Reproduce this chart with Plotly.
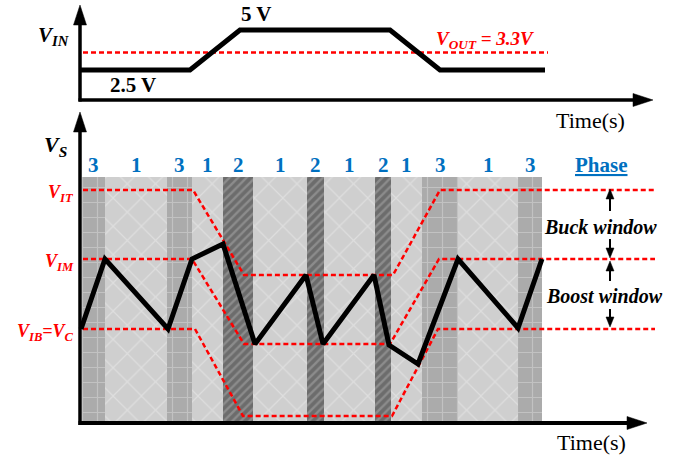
import plotly.graph_objects as go

W, H = 678, 455

# ---------------- data ----------------
# Top panel: input voltage vs time (time in arbitrary units)
vin_time = [0.0, 11.0, 16.0, 31.0, 36.0, 46.5]
vin_volts = [2.5, 2.5, 5.0, 5.0, 2.5, 2.5]
vout_time = [0.3, 46.8]
vout_level = [3.6, 3.6]          # drawn position of the V_OUT = 3.3V reference

# Bottom panel: switching-node voltage V_S (arbitrary level units)
vs_time = [0.1, 2.5, 8.8, 11.2, 14.3, 17.5, 22.6, 24.3, 29.4, 30.9, 33.8, 37.8, 43.8, 46.2]
vs_level = [9.4, 16.4, 9.4, 16.4, 17.9, 7.9, 14.8, 7.9, 14.8, 7.8, 5.9, 16.4, 9.5, 16.4]

# Threshold levels V_IT, V_IM, V_IB
vit_time = [0.3, 11.3, 16.4, 31.3, 36.0, 57.5]
vit_level = [23.3, 23.3, 14.8, 14.8, 23.3, 23.3]
vim_time = [0.3, 11.2, 16.4, 31.0, 35.9, 57.5]
vim_level = [16.4, 16.4, 7.9, 7.9, 16.4, 16.4]
vib_time = [0.3, 11.5, 16.3, 31.2, 35.8, 57.5]
vib_level = [9.4, 9.4, 0.7, 0.7, 9.4, 9.4]

# Phase bands
phase_edges = [0.2, 2.5, 8.7, 11.2, 14.3, 17.3, 22.7, 24.4, 29.5, 31.1, 34.2, 37.8, 43.8, 46.2]
phase_seq = [3, 1, 3, 1, 2, 1, 2, 1, 2, 1, 3, 1, 3]
band_top = 24.6

# ---------------- figure ----------------
RED = "#FF0000"
BLUE = "#0070C0"
FONT = "Liberation Serif"

fig = go.Figure()

styles = {
    1: dict(bg="#cfcfcf", fg="#dedede", shape="x", size=20, solidity=0.12),
    3: dict(bg="#ababab", fg="#c2c2c2", shape="+", size=15, solidity=0.15),
    2: dict(bg="#6c6c6c", fg="#8c8c8c", shape="/", size=6, solidity=0.4),
}
for ph in (1, 3, 2):
    xs, ws = [], []
    for i, p in enumerate(phase_seq):
        if p == ph:
            a, b = phase_edges[i], phase_edges[i + 1]
            xs.append((a + b) / 2)
            ws.append(b - a)
    st = styles[ph]
    fig.add_trace(go.Bar(
        x=xs, y=[band_top] * len(xs), width=ws, base=0,
        marker=dict(color=st["bg"], line=dict(width=0),
                    pattern=dict(shape=st["shape"], fgcolor=st["fg"], bgcolor=st["bg"],
                                 size=st["size"], solidity=st["solidity"], fillmode="replace")),
        xaxis="x", yaxis="y", showlegend=False, hoverinfo="skip"))

dash = "5px,3px"
for tt, lv in ((vit_time, vit_level), (vim_time, vim_level), (vib_time, vib_level)):
    fig.add_trace(go.Scatter(x=tt, y=lv, mode="lines",
                             line=dict(color=RED, width=2.5, dash=dash),
                             xaxis="x", yaxis="y", showlegend=False, hoverinfo="skip"))

fig.add_trace(go.Scatter(x=vs_time, y=vs_level, mode="lines",
                         line=dict(color="black", width=5),
                         xaxis="x", yaxis="y", showlegend=False, hoverinfo="skip"))

fig.add_trace(go.Scatter(x=vout_time, y=vout_level, mode="lines",
                         line=dict(color=RED, width=2.5, dash=dash),
                         xaxis="x", yaxis="y2", showlegend=False, hoverinfo="skip"))
fig.add_trace(go.Scatter(x=vin_time, y=vin_volts, mode="lines",
                         line=dict(color="black", width=5),
                         xaxis="x", yaxis="y2", showlegend=False, hoverinfo="skip"))

# ---------------- decorations (pixel helpers) ----------------
def P(px, py):
    return px / W, 1 - py / H

def line(x0, y0, x1, y1, w=3.5, color="black"):
    a, b = P(x0, y0)
    c, d = P(x1, y1)
    fig.add_shape(type="line", xref="paper", yref="paper", x0=a, y0=b, x1=c, y1=d,
                  line=dict(color=color, width=w))

def head(tx, ty, direction, length, width):
    if direction == "up":
        pts = [(tx, ty), (tx - width / 2, ty + length), (tx + width / 2, ty + length)]
    elif direction == "down":
        pts = [(tx, ty), (tx - width / 2, ty - length), (tx + width / 2, ty - length)]
    else:  # right
        pts = [(tx, ty), (tx - length, ty - width / 2), (tx - length, ty + width / 2)]
    path = "M " + " L ".join("%.5f,%.5f" % P(x, y) for x, y in pts) + " Z"
    fig.add_shape(type="path", xref="paper", yref="paper", path=path,
                  fillcolor="black", line=dict(color="black", width=0.5))

# top panel axes
line(80, 101.5, 80, 22)
line(78.5, 100, 636, 100)
head(80, 5, "up", 20, 13)
head(653, 100, "right", 20, 13)
# bottom panel axes
line(80, 425, 80, 130)
line(78.5, 423, 630, 423, w=4)
head(80, 112, "up", 20, 13)
head(647, 423, "right", 20, 13)

# window arrows
AX = 610
line(AX, 197, AX, 211, w=2)
head(AX, 189, "up", 10, 8)
line(AX, 239, AX, 250, w=2)
head(AX, 258, "down", 10, 8)
line(AX, 269, AX, 281, w=2)
head(AX, 261, "up", 10, 8)
line(AX, 309, AX, 319, w=2)
head(AX, 327, "down", 10, 8)

def text(px, py, s, size, color="black", xanchor="center", yanchor="middle"):
    x, y = P(px, py)
    fig.add_annotation(x=x, y=y, xref="paper", yref="paper", text=s, showarrow=False,
                       xanchor=xanchor, yanchor=yanchor,
                       font=dict(family=FONT, size=size, color=color))

text(54, 36, "<b><i>V<sub>IN</sub></i></b>", 21)
text(256, 14, "<b>5 V</b>", 21)
text(133, 85, "<b>2.5 V</b>", 21)
text(485, 40, "<b><i>V<sub>OUT</sub> = 3.3V</i></b>", 19, RED)
text(590, 121, "Time(s)", 22)
text(591, 442, "Time(s)", 22)
text(55, 146, "<b><i>V<sub>S</sub></i></b>", 22)

text(76, 193, "<b><i>V<sub>IT</sub></i></b>", 18, RED, xanchor="right")
text(76, 262, "<b><i>V<sub>IM</sub></i></b>", 18, RED, xanchor="right")
text(76, 332, "<b><i>V<sub>IB</sub>=V<sub>C</sub></i></b>", 18, RED, xanchor="right")

text(600, 227, "<b><i>Buck window</i></b>", 20)
text(604, 296, "<b><i>Boost window</i></b>", 20)
text(601, 165, "<b><u>Phase</u></b>", 21, BLUE)

# phase numbers at band centres (data coordinates)
for i, p in enumerate(phase_seq):
    cx = (phase_edges[i] + phase_edges[i + 1]) / 2
    fig.add_annotation(x=cx, y=band_top + 1.2, xref="x", yref="y", text="<b>%d</b>" % p,
                       showarrow=False, yanchor="middle",
                       font=dict(family=FONT, size=21, color=BLUE))

fig.update_layout(
    width=W, height=H, autosize=False,
    margin=dict(l=0, r=0, t=0, b=0, pad=0),
    paper_bgcolor="white", plot_bgcolor="white",
    barmode="overlay", bargap=0,
    xaxis=dict(domain=[0, 1], range=[-8, 59.8], visible=False, fixedrange=True),
    yaxis=dict(domain=[0, 1], range=[-3.2, 42.3], visible=False, fixedrange=True),
    yaxis2=dict(domain=[0, 1], range=[-21.5625, 6.875], overlaying="y", visible=False,
                fixedrange=True),
)

fig.write_html("out.html")
